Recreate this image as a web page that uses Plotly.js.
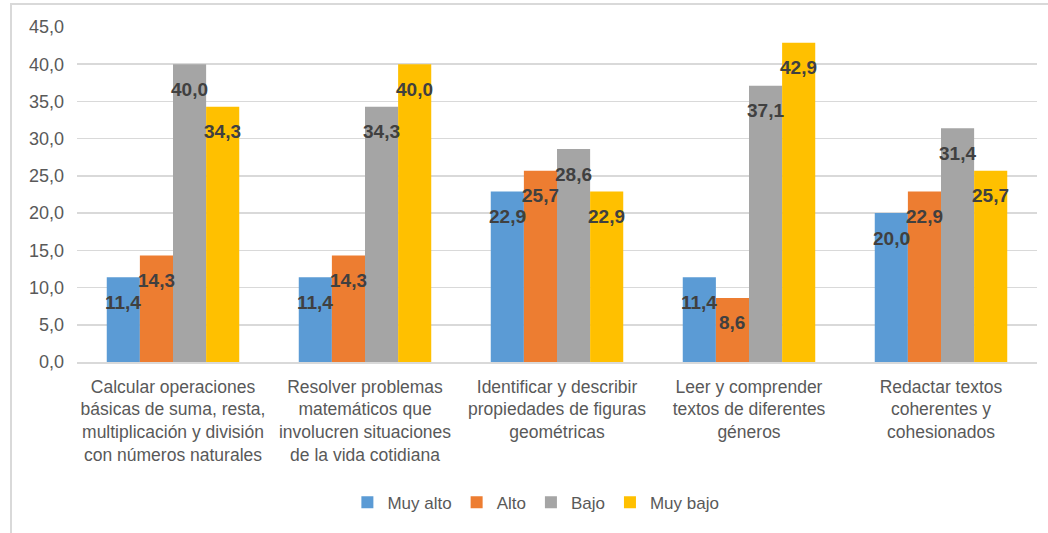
<!DOCTYPE html>
<html>
<head>
<meta charset="utf-8">
<script src="https://cdn.plot.ly/plotly-3.0.1.min.js"></script>
<style>
  html, body { margin: 0; padding: 0; background: #fff; }
  #wrap { position: relative; width: 1048px; height: 533px; }
  #chart { position: absolute; left: 0; top: 0; width: 1048px; height: 533px; }
  #frame { position: absolute; left: 10px; top: 3px; width: 1038px; height: 530px;
           border-left: 2px solid #d9d9d9; border-top: 2px solid #d9d9d9; box-sizing: border-box; pointer-events: none; }
</style>
</head>
<body>
<div id="wrap"><div id="chart"></div><div id="frame"></div></div>
<script>
const categories = [
  "Calcular operaciones<br>básicas de suma, resta,<br>multiplicación y división<br>con números naturales",
  "Resolver problemas<br>matemáticos que<br>involucren situaciones<br>de la vida cotidiana",
  "Identificar y describir<br>propiedades de figuras<br>geométricas",
  "Leer y comprender<br>textos de diferentes<br>géneros",
  "Redactar textos<br>coherentes y<br>cohesionados"
];
const seriesNames = ["Muy alto", "Alto", "Bajo", "Muy bajo"];
const muyAlto = [11.4, 11.4, 22.9, 11.4, 20.0];
const alto    = [14.3, 14.3, 25.7, 8.6, 22.9];
const bajo    = [40.0, 34.3, 28.6, 37.1, 31.4];
const muyBajo = [34.3, 40.0, 22.9, 42.9, 25.7];
const yTicks = [0, 5, 10, 15, 20, 25, 30, 35, 40, 45];
const colors = ["#5B9BD5", "#ED7D31", "#A5A5A5", "#FFC000"];

const series = [muyAlto, alto, bajo, muyBajo];
const fmt = v => v.toFixed(1).replace(".", ",");
const bargap = 0.31;
const barW = (1 - bargap) / series.length;

const traces = series.map((vals, k) => ({
  type: "bar",
  name: seriesNames[k],
  x: categories,
  y: vals,
  marker: { color: colors[k] },
  hoverinfo: "y+name"
}));

const annotations = [];
series.forEach((vals, k) => {
  vals.forEach((v, i) => {
    annotations.push({
      x: i + (k - (series.length - 1) / 2) * barW,
      y: v,
      xref: "x", yref: "y",
      text: fmt(v),
      showarrow: false,
      yanchor: "middle",
      xanchor: "center",
      yshift: -25,
      font: { family: "'Liberation Sans Narrow', 'Arial Narrow', 'Liberation Sans', Arial, sans-serif", size: 19, color: "#404040", weight: "bold" }
    });
  });
});

const layout = {
  width: 1048, height: 533,
  margin: { l: 77, r: 11, t: 27, b: 171 },
  paper_bgcolor: "rgba(0,0,0,0)",
  plot_bgcolor: "rgba(0,0,0,0)",
  barmode: "group",
  bargap: bargap,
  bargroupgap: 0,
  font: { family: "'Liberation Sans', Arial, sans-serif", color: "#595959", size: 16 },
  xaxis: {
    type: "category",
    showgrid: false,
    showline: true,
    linecolor: "#d9d9d9",
    linewidth: 1.5,
    ticks: "",
    tickangle: 0,
    ticklabelstandoff: 8,
    tickfont: { size: 17.5, color: "#595959" },
    fixedrange: true
  },
  yaxis: {
    range: [0, 45],
    tickvals: yTicks,
    ticktext: yTicks.map(fmt),
    showgrid: true,
    gridcolor: "#d9d9d9",
    gridwidth: 1.5,
    zeroline: false,
    showline: false,
    ticks: "",
    ticklen: 0,
    ticklabelstandoff: 12,
    tickfont: { size: 18, color: "#595959" },
    automargin: false,
    fixedrange: true
  },
  showlegend: true,
  legend: {
    orientation: "h",
    x: 0.478, xanchor: "center",
    y: -0.42, yanchor: "middle",
    font: { size: 17, color: "#595959" },
    itemclick: false
  },
  annotations: annotations
};

Plotly.newPlot("chart", traces, layout, { displayModeBar: false, staticPlot: true });
</script>
</body>
</html>
